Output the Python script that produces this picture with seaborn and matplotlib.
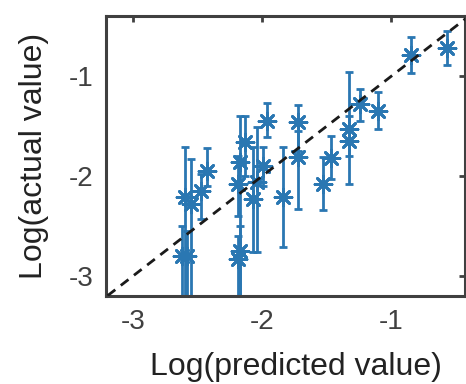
import numpy as np
import pandas as pd
import matplotlib
matplotlib.use('Agg')
import matplotlib.pyplot as plt
import seaborn as sns

# log10 predicted vs actual values, with the ends of each error bar
pred = [-2.60, -2.55, -2.62, -2.58, -2.47, -2.43,
        -2.19, -2.17, -2.19, -2.17, -2.13, -2.07, -2.04, -1.99, -1.96,
        -1.84, -1.72, -1.72, -1.53, -1.47, -1.33, -1.33, -1.24, -1.10,
        -0.85, -0.57]
actual = [-2.21, -2.28, -2.80, -2.80, -2.15, -1.95,
          -2.83, -2.75, -2.08, -1.86, -1.66, -2.23, -2.06, -1.90, -1.45,
          -2.21, -1.46, -1.81, -2.08, -1.82, -1.53, -1.65, -1.28, -1.35,
          -0.79, -0.72]
err_top = [-1.71, -1.83, -2.50, -2.55, -1.98, -1.72,
           -2.60, -2.50, -1.80, -1.40, -1.40, -1.71, -1.51, -1.71, -1.27,
           -1.71, -1.29, -1.55, -1.81, -1.60, -0.96, -1.40, -1.13, -1.16,
           -0.61, -0.55]
err_bottom = [-3.60, -3.60, -3.60, -3.60, -2.43, -2.10,
              -3.60, -3.60, -2.40, -3.60, -2.00, -2.76, -2.76, -2.10, -1.61,
              -2.71, -1.75, -2.33, -2.34, -2.03, -1.80, -2.08, -1.45, -1.53,
              -0.97, -0.89]

df = pd.DataFrame({'pred': pred, 'actual': actual})
blue = '#2a77b2'
gray = '#404040'

sns.set_theme(style='white')
plt.rcParams['font.family'] = ['Liberation Sans', 'DejaVu Sans']

fig = plt.figure(figsize=(4.66, 3.84), dpi=100)
ax = fig.add_axes([0.227, 0.229, 0.771, 0.729])

lo = np.array(actual) - np.array(err_bottom)
hi = np.array(err_top) - np.array(actual)
ax.errorbar(pred, actual, yerr=[lo, hi], fmt='none', ecolor=blue,
            elinewidth=2.0, capsize=3, capthick=2.0, zorder=2)
sns.scatterplot(data=df, x='pred', y='actual', marker=(8, 2, 0), s=150,
                color=blue, edgecolor=blue, linewidth=2.0, ax=ax, zorder=3)

# y = x reference line
line = pd.DataFrame({'x': [-3.4, -0.3], 'y': [-3.4, -0.3]})
sns.lineplot(data=line, x='x', y='y', color='#1a1a1a', linestyle=(0, (3.5, 2.5)),
             linewidth=2.0, ax=ax, zorder=4)

ax.set_xlim(-3.21, -0.43)
ax.set_ylim(-3.2, -0.4)
ax.set_xticks([-3, -2, -1])
ax.set_yticks([-3, -2, -1])
ax.set_xticklabels(['-3', '-2', '-1'])
ax.set_yticklabels(['-3', '-2', '-1'])
ax.tick_params(direction='in', length=4, width=2, color=gray,
               labelsize=20, labelcolor=gray, top=True, right=True, pad=9)
for s in ax.spines.values():
    s.set_color(gray)
    s.set_linewidth(2.2)
ax.set_xlabel('Log(predicted value)', fontsize=23, color='#222222')
ax.set_ylabel('Log(actual value)', fontsize=23, color='#222222', labelpad=14)
ax.xaxis.set_label_coords(0.53, -0.2)

fig.savefig('out.png', dpi=100)
